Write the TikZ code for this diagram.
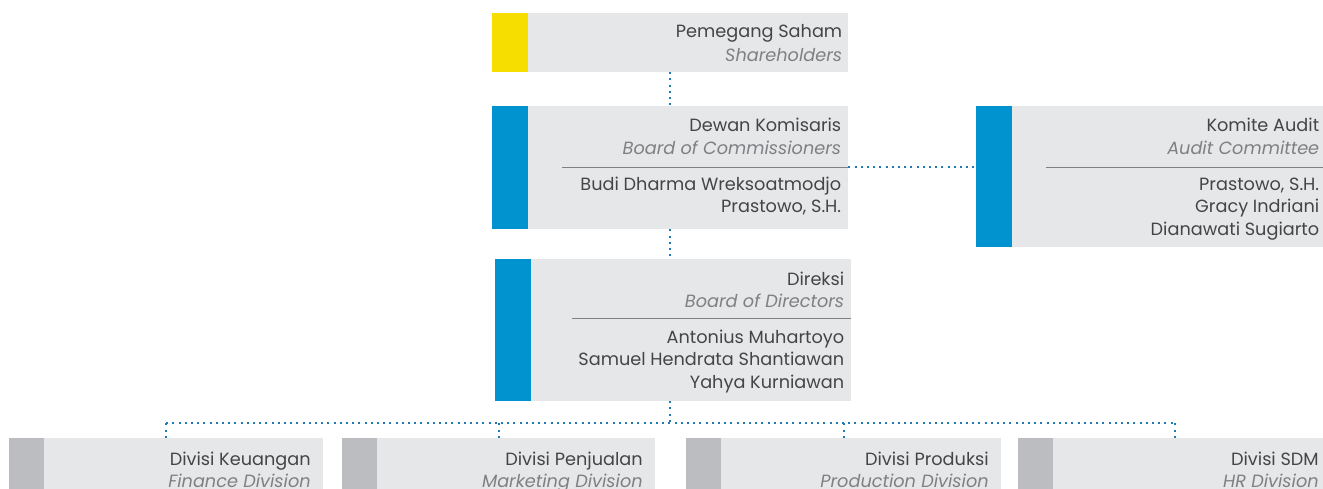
\documentclass[tikz,border=0pt]{standalone}
\usepackage{fontspec}
\setmainfont{Poppins}
\definecolor{boxgray}{HTML}{E6E7E8}
\definecolor{baryellow}{HTML}{F6DF00}
\definecolor{barblue}{HTML}{0093D0}
\definecolor{bargray}{HTML}{BCBDC0}
\definecolor{txtdark}{HTML}{454547}
\definecolor{txtsub}{HTML}{7F8083}
\definecolor{dotblue}{HTML}{1F7DB3}
\tikzset{
  orgbox/.style={fill=boxgray, draw=none, inner sep=0pt, anchor=north west},
  headtxt/.style={anchor=base east, inner sep=0pt, text=txtdark, font=\fontsize{17.7pt}{21pt}\selectfont},
  subtxt/.style={anchor=base east, inner sep=0pt, text=txtsub, font=\fontsize{17.7pt}{21pt}\selectfont\itshape},
  rule/.style={draw=txtsub, line width=1pt},
  dotline/.style={draw=dotblue, line width=2pt, dash pattern=on 2pt off 4.2pt},
}
\begin{document}
\begin{tikzpicture}[x=1pt, y=-1pt]
\useasboundingbox (0,0) rectangle (1323,488);

% ---- boxes ----
\node[orgbox, minimum width=356pt, minimum height=59pt]  (sh) at (492,12.7) {};
\node[orgbox, minimum width=356pt, minimum height=123pt] (bc) at (492,106) {};
\node[orgbox, minimum width=350pt, minimum height=141pt] (ac) at (976,106) {};
\node[orgbox, minimum width=356pt, minimum height=141.7pt] (bd) at (495,259) {};
\node[orgbox, minimum width=314pt, minimum height=51pt] (d1) at (9,437.7) {};
\node[orgbox, minimum width=313pt, minimum height=51pt] (d2) at (342,437.7) {};
\node[orgbox, minimum width=315pt, minimum height=51pt] (d3) at (686,437.7) {};
\node[orgbox, minimum width=313pt, minimum height=51pt] (d4) at (1018,437.7) {};

% ---- coloured side bars ----
\fill[baryellow] (sh.north west) rectangle ([xshift=36pt]sh.south west);
\fill[barblue] (bc.north west) rectangle ([xshift=36pt]bc.south west);
\fill[barblue] (ac.north west) rectangle ([xshift=36pt]ac.south west);
\fill[barblue] (bd.north west) rectangle ([xshift=36pt]bd.south west);
\foreach \d in {d1,d2,d3,d4}
  \fill[bargray] (\d.north west) rectangle ([xshift=35pt]\d.south west);

% ---- Pemegang Saham ----
\node[headtxt] (shA) at ([xshift=-6pt, yshift=-25pt]sh.north east) {Pemegang Saham};
\node[subtxt]  (shB) at ([xshift=-6pt, yshift=-48.3pt]sh.north east) {Shareholders};

% ---- Dewan Komisaris ----
\node[headtxt] (bcA) at ([xshift=-7pt, yshift=-25pt]bc.north east) {Dewan Komisaris};
\node[subtxt]  (bcB) at ([xshift=-7pt, yshift=-48pt]bc.north east) {Board of Commissioners};
\draw[rule] ([shift={(70pt,-61pt)}]bc.north west) -- ([yshift=-61pt]bc.north east);
\node[headtxt] (bcC) at ([xshift=-7pt, yshift=-84pt]bc.north east) {Budi Dharma Wreksoatmodjo};
\node[headtxt] (bcD) at ([xshift=-7pt, yshift=-106.5pt]bc.north east) {Prastowo, S.H.};

% ---- Komite Audit ----
\node[headtxt] (acA) at ([xshift=-7pt, yshift=-25pt]ac.north east) {Komite Audit};
\node[subtxt]  (acB) at ([xshift=-7pt, yshift=-48pt]ac.north east) {Audit Committee};
\draw[rule] ([shift={(70pt,-61pt)}]ac.north west) -- ([yshift=-61pt]ac.north east);
\node[headtxt] (acC) at ([xshift=-7pt, yshift=-84pt]ac.north east) {Prastowo, S.H.};
\node[headtxt] (acD) at ([xshift=-7pt, yshift=-106.5pt]ac.north east) {Gracy Indriani};
\node[headtxt] (acE) at ([xshift=-7pt, yshift=-129pt]ac.north east) {Dianawati Sugiarto};

% ---- Direksi ----
\node[headtxt] (bdA) at ([xshift=-7pt, yshift=-26pt]bd.north east) {Direksi};
\node[subtxt]  (bdB) at ([xshift=-7pt, yshift=-48.3pt]bd.north east) {Board of Directors};
\draw[rule] ([shift={(77pt,-59.3pt)}]bd.north west) -- ([yshift=-59.3pt]bd.north east);
\node[headtxt] (bdC) at ([xshift=-7pt, yshift=-84.3pt]bd.north east) {Antonius Muhartoyo};
\node[headtxt] (bdD) at ([xshift=-7pt, yshift=-106.7pt]bd.north east) {Samuel Hendrata Shantiawan};
\node[headtxt] (bdE) at ([xshift=-7pt, yshift=-129.3pt]bd.north east) {Yahya Kurniawan};

% ---- divisions ----
\foreach \d/\a/\b in {d1/Divisi Keuangan/Finance Division,
                      d2/Divisi Penjualan/Marketing Division,
                      d3/Divisi Produksi/Production Division,
                      d4/Divisi SDM/HR Division}{
  \node[headtxt] (\d A) at ([xshift=-12.5pt, yshift=-27.5pt]\d.north east) {\a};
  \node[subtxt]  (\d B) at ([xshift=-12.5pt, yshift=-49.5pt]\d.north east) {\b};
}

% ---- connectors ----
\coordinate (bus) at (670,423.3);
\draw[dotline] (sh.south) -- (bc.north);
\draw[dotline] (bc.south) -- (bc.south |- bd.north);
\draw[dotline] ([yshift=-61pt]bc.north east) -- ([yshift=-61pt]ac.north west);
\draw[dotline] (bus |- bd.south) -- (bus);
\draw[dotline] (d1.north |- bus) -- (d4.north |- bus);
\foreach \d in {d1,d2,d3,d4}
  \draw[dotline] (\d.north |- bus) -- (\d.north);
\end{tikzpicture}
\end{document}
